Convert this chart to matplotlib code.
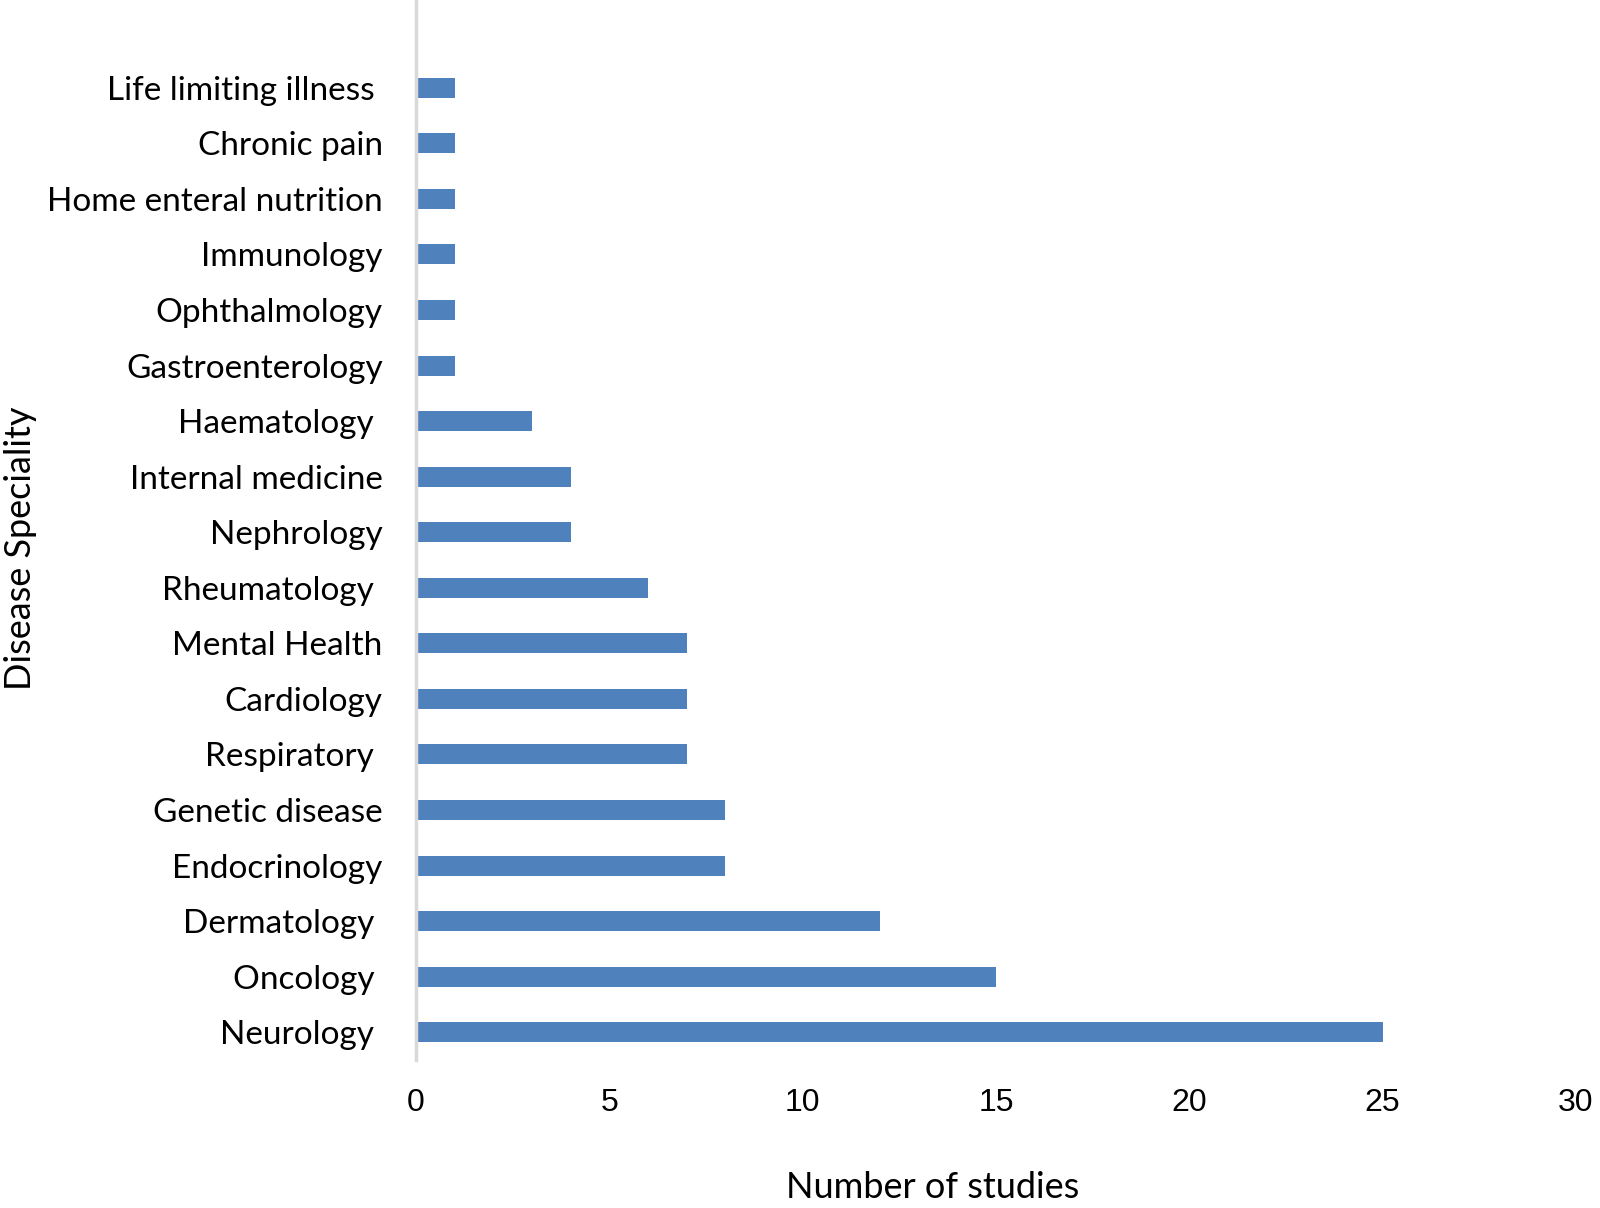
import matplotlib.pyplot as plt
import numpy as np

# categories listed bottom -> top
specialities = ['Neurology ', 'Oncology ', 'Dermatology ', 'Endocrinology', 'Genetic disease',
                'Respiratory ', 'Cardiology', 'Mental Health', 'Rheumatology ', 'Nephrology',
                'Internal medicine', 'Haematology ', 'Gastroenterology', 'Ophthalmology',
                'Immunology', 'Home enteral nutrition', 'Chronic pain', 'Life limiting illness ']
n_studies = [25, 15, 12, 8, 8, 7, 7, 7, 6, 4, 4, 3, 1, 1, 1, 1, 1, 1]
x_ticks = [0, 5, 10, 15, 20, 25, 30]

label_font = 'Lato'

fig = plt.figure(figsize=(16, 12.08), dpi=100)
ax = fig.add_axes([416 / 1600, 1 - 1060 / 1208, (1576 - 416) / 1600, 1060 / 1208])

pos = np.arange(len(specialities))
ax.barh(pos, n_studies, height=0.36, color='#4F81BD')

ax.set_xlim(0, 30)
ax.set_ylim(-0.5, 18.58)
ax.set_xticks(x_ticks)
ax.set_xticklabels([str(t) for t in x_ticks], fontsize=23, family='Liberation Sans')
ax.set_yticks(pos)
ax.set_yticklabels(specialities, fontsize=24, family=label_font)
ax.tick_params(axis='both', length=0)
ax.tick_params(axis='x', pad=20)
ax.tick_params(axis='y', pad=24)

for side in ['top', 'right', 'bottom']:
    ax.spines[side].set_visible(False)
ax.spines['left'].set_color('#D9D9D9')
ax.spines['left'].set_linewidth(2.5)

fig.text(933 / 1600, 1 - 1188 / 1208, 'Number of studies', ha='center', va='center',
         fontsize=26, family=label_font)
fig.text(21 / 1600, 1 - 548 / 1208, 'Disease Speciality', ha='center', va='center',
         rotation=90, fontsize=26, family=label_font)

fig.savefig('out.png', dpi=100)
